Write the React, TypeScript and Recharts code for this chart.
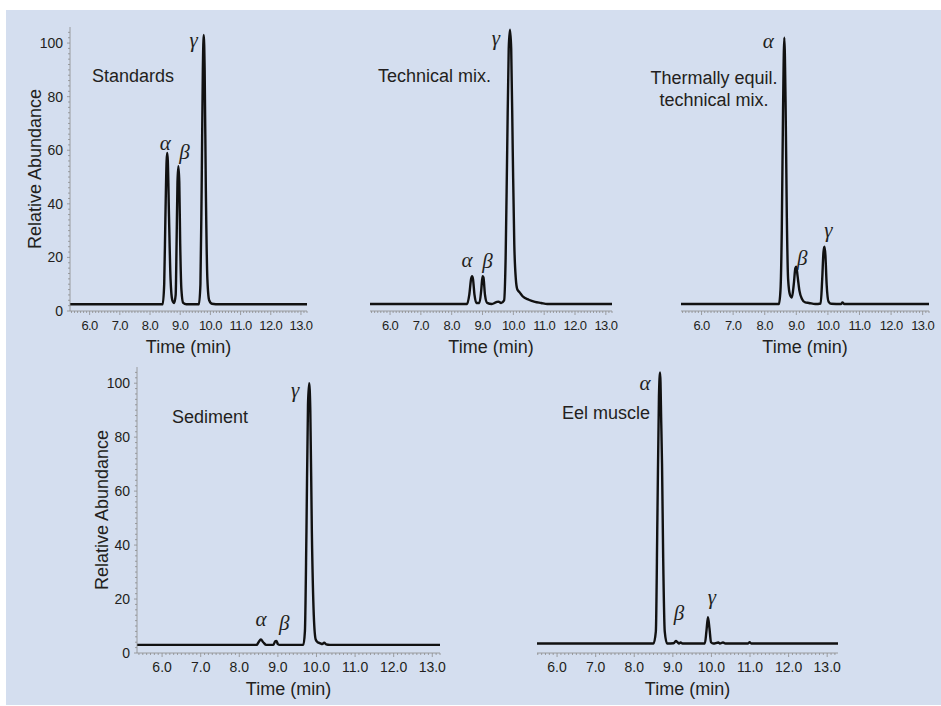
import React from "react";
import { LineChart, Line, XAxis, YAxis, ReferenceDot } from "recharts";

// retention time (min) / relative abundance
const stdTime = [5.35, 8.42, 8.47, 8.51, 8.55, 8.57, 8.59, 8.63, 8.68, 8.74, 8.8, 8.85, 8.88, 8.91, 8.94, 8.97, 9.0, 9.04, 9.1, 9.2, 9.62, 9.67, 9.71, 9.75, 9.78, 9.81, 9.85, 9.9, 9.96, 10.05, 10.3, 13.2];
const stdAbund = [2.5, 2.5, 10, 35, 56, 59, 56, 35, 12, 4, 3, 6, 25, 48, 54, 48, 25, 8, 3, 2.5, 2.5, 10, 45, 90, 103, 90, 45, 12, 4, 2.7, 2.5, 2.5];

const techTime = [5.35, 8.5, 8.57, 8.63, 8.66, 8.69, 8.74, 8.8, 8.9, 8.96, 9.0, 9.03, 9.08, 9.15, 9.3, 9.45, 9.52, 9.6, 9.7, 9.75, 9.8, 9.85, 9.89, 9.93, 9.98, 10.03, 10.08, 10.13, 10.2, 10.3, 10.5, 10.7, 10.9, 11.1, 13.2];
const techAbund = [2.6, 2.6, 6, 12, 13, 12, 6, 3, 3, 8, 13, 12.5, 6, 3, 2.6, 3.3, 3.5, 3, 4, 20, 60, 98, 105, 98, 60, 25, 12, 8, 7, 5.5, 4.2, 3.4, 3, 2.6, 2.6];

const thermTime = [5.35, 8.45, 8.5, 8.54, 8.58, 8.62, 8.66, 8.7, 8.74, 8.8, 8.86, 8.92, 8.97, 9.0, 9.04, 9.1, 9.18, 9.28, 9.4, 9.6, 9.77, 9.82, 9.86, 9.89, 9.92, 9.96, 10.02, 10.1, 10.42, 10.46, 10.52, 13.2];
const thermAbund = [2.6, 2.6, 8, 30, 75, 102, 78, 35, 12, 6, 5, 10, 16, 16.5, 13, 7.5, 4.5, 3.2, 3, 2.6, 2.8, 12, 22, 24, 21, 10, 3.5, 2.7, 2.6, 3.2, 2.6, 2.6];

const sedTime = [5.35, 8.45, 8.5, 8.56, 8.62, 8.7, 8.88, 8.93, 8.96, 9.0, 9.05, 9.66, 9.7, 9.74, 9.78, 9.81, 9.84, 9.88, 9.93, 9.98, 10.03, 10.1, 10.15, 10.2, 10.25, 10.35, 13.2];
const sedAbund = [3, 3, 4, 5, 4, 3, 3, 4.3, 4.5, 3.3, 3, 3, 8, 45, 92, 100, 90, 45, 14, 5, 4, 3.6, 3.3, 3.8, 3.2, 3, 3];

const eelTime = [5.48, 8.5, 8.56, 8.6, 8.64, 8.67, 8.7, 8.72, 8.75, 8.79, 8.85, 9.02, 9.08, 9.12, 9.16, 9.2, 9.25, 9.83, 9.87, 9.91, 9.95, 9.99, 10.05, 10.18, 10.22, 10.3, 10.36, 10.95, 10.99, 11.03, 13.28];
const eelAbund = [3.5, 3.5, 8, 50, 95, 104, 85, 70, 35, 8, 3.5, 3.6, 4.5, 4, 3.5, 3.9, 3.5, 3.5, 8, 13.3, 9, 4, 3.5, 3.9, 3.5, 3.9, 3.5, 3.5, 4, 3.5, 3.5];

const peakNames = ["α", "β", "γ"];
const stdPeaks = [8.57, 8.94, 9.78];
const techPeaks = [8.66, 9.0, 9.89];
const thermPeaks = [8.62, 9.0, 9.89];
const sedPeaks = [8.56, 8.96, 9.81];
const eelPeaks = [8.67, 9.08, 9.91];

const xLabelTicks = [6, 7, 8, 9, 10, 11, 12, 13];
const yLabelTicks = [0, 20, 40, 60, 80, 100];

const BG = "#d4deef";
const INK = "#231f20";
const AXIS = "#8c8c8c";
const SANS = "'Liberation Sans', Arial, sans-serif";

// minor tick marks every 0.1 min / 2 %
const xMinor: number[] = [];
for (let i = 54; i <= 132; i++) xMinor.push(i / 10);
const yMinor: number[] = [];
for (let i = 0; i <= 52; i++) yMinor.push(i * 2);

const zip = (t: number[], v: number[]) => t.map((x, i) => ({ t: x, v: v[i] }));

const XTick = (props: any) => {
  const { x, y, payload, fs } = props;
  const v = payload.value;
  const major = xLabelTicks.some((m) => Math.abs(m - v) < 1e-6);
  return (
    <g>
      <line x1={x} x2={x} y1={y} y2={y + (major ? 4 : 2)} stroke={AXIS} strokeWidth={0.8} />
      {major && (
        <text x={x} y={y + 14} textAnchor="middle" dominantBaseline="central" fill={INK} fontFamily={SANS} fontSize={fs} letterSpacing={fs < 14 ? -0.6 : 0}>
          {v.toFixed(1)}
        </text>
      )}
    </g>
  );
};

const YTick = (props: any) => {
  const { x, y, payload } = props;
  const v = payload.value;
  const major = yLabelTicks.includes(v);
  return (
    <g>
      <line x1={x} x2={x - (major ? 3 : 2)} y1={y} y2={y} stroke={AXIS} strokeWidth={0.8} />
      {major && (
        <text x={x - 7} y={y} textAnchor="end" dominantBaseline="central" fill={INK} fontFamily={SANS} fontSize={14}>
          {v}
        </text>
      )}
    </g>
  );
};

type PanelProps = {
  time: number[];
  abund: number[];
  peaks: number[];
  offsets: [number, number][];
  left: number;
  right: number;
  top: number;
  bottom: number;
  xDomain: [number, number];
  showY?: boolean;
  tickFont: number;
};

function Panel({ time, abund, peaks, offsets, left, right, top, bottom, xDomain, showY, tickFont }: PanelProps) {
  const data = zip(time, abund);
  const padL = 70;
  const padT = 10;
  const width = right - left + padL + 12;
  const height = bottom - top + padT + 50;
  const ticks = xMinor.filter((t) => t >= xDomain[0] - 1e-6 && t <= xDomain[1] + 1e-6);
  return (
    <div style={{ position: "absolute", left: left - padL, top: top - padT }}>
      <LineChart width={width} height={height} data={data} margin={{ top: padT, right: 12, bottom: 0, left: showY ? padL - 50 : padL }} style={{ overflow: "visible" }}>
        <XAxis
          type="number"
          dataKey="t"
          domain={xDomain}
          allowDataOverflow
          ticks={ticks}
          interval={0}
          height={50}
          tickSize={0}
          tickMargin={0}
          tickLine={false}
          axisLine={{ stroke: AXIS, strokeWidth: 0.8 }}
          tick={<XTick fs={tickFont} />}
          label={(p: any) => (
            <text x={p.viewBox.x + p.viewBox.width / 2} y={p.viewBox.y + 36} textAnchor="middle" dominantBaseline="central" fill={INK} fontFamily={SANS} fontSize={18}>
              Time (min)
            </text>
          )}
        />
        {showY ? (
          <YAxis
            type="number"
            domain={[0, 106]}
            allowDataOverflow
            ticks={yMinor}
            interval={0}
            width={50}
            tickSize={0}
            tickMargin={0}
            tickLine={false}
            axisLine={{ stroke: AXIS, strokeWidth: 0.8 }}
            tick={<YTick />}
            label={(p: any) => (
              <text
                x={p.viewBox.x + p.viewBox.width - 35}
                y={p.viewBox.y + p.viewBox.height / 2}
                transform={`rotate(-90 ${p.viewBox.x + p.viewBox.width - 35} ${p.viewBox.y + p.viewBox.height / 2})`}
                textAnchor="middle"
                dominantBaseline="central"
                fill={INK}
                fontFamily={SANS}
                fontSize={18}
              >
                Relative Abundance
              </text>
            )}
          />
        ) : (
          <YAxis hide type="number" domain={[0, 106]} allowDataOverflow />
        )}
        <Line type="monotone" dataKey="v" stroke="#111" strokeWidth={2.4} dot={false} isAnimationActive={false} />
        {peaks.map((t, i) => (
          <ReferenceDot
            key={i}
            x={t}
            y={abund[time.indexOf(t)]}
            r={0}
            shape={(p: any) => (
              <text x={p.cx + offsets[i][0]} y={p.cy + offsets[i][1]} textAnchor="middle" dominantBaseline="central" fill={INK} fontFamily="'Liberation Serif', 'Times New Roman', serif" fontStyle="italic" fontSize={21}>
                {peakNames[i]}
              </text>
            )}
          />
        ))}
      </LineChart>
    </div>
  );
}

const titleStyle: React.CSSProperties = {
  position: "absolute",
  fontFamily: SANS,
  fontSize: 18,
  lineHeight: "22px",
  color: INK,
  whiteSpace: "nowrap",
};

export default function App() {
  return (
    <div style={{ position: "fixed", left: 0, top: 0, width: 941, height: 706, background: "#fff", overflow: "hidden" }}>
      <div style={{ position: "absolute", left: 6, top: 10, width: 935, height: 695, background: BG }} />
      <Panel time={stdTime} abund={stdAbund} peaks={stdPeaks} offsets={[[-2, -10], [6, -14], [-10, 5]]} left={70} right={307} top={27} bottom={311} xDomain={[5.35, 13.2]} showY tickFont={13} />
      <Panel time={techTime} abund={techAbund} peaks={techPeaks} offsets={[[-5, -16], [5, -15], [-14, 8]]} left={370} right={612} top={27} bottom={311} xDomain={[5.35, 13.2]} tickFont={13} />
      <Panel time={thermTime} abund={thermAbund} peaks={thermPeaks} offsets={[[-16, 3], [6, -9], [4, -17]]} left={681} right={929} top={27} bottom={311} xDomain={[5.35, 13.2]} tickFont={13} />
      <Panel time={sedTime} abund={sedAbund} peaks={sedPeaks} offsets={[[0, -21], [8, -18], [-14, 7]]} left={137} right={440} top={367} bottom={653} xDomain={[5.35, 13.2]} showY tickFont={14} />
      <Panel time={eelTime} abund={eelAbund} peaks={eelPeaks} offsets={[[-15, 11], [3, -28], [4, -20]]} left={537} right={838} top={367} bottom={653} xDomain={[5.48, 13.28]} tickFont={14} />

      <div style={{ ...titleStyle, left: 92, top: 65 }}>Standards</div>
      <div style={{ ...titleStyle, left: 378, top: 65 }}>Technical mix.</div>
      <div style={{ ...titleStyle, left: 614, top: 67, width: 200, textAlign: "center" }}>
        Thermally equil.
        <br />
        technical mix.
      </div>
      <div style={{ ...titleStyle, left: 172, top: 406 }}>Sediment</div>
      <div style={{ ...titleStyle, left: 562, top: 402 }}>Eel muscle</div>
    </div>
  );
}
